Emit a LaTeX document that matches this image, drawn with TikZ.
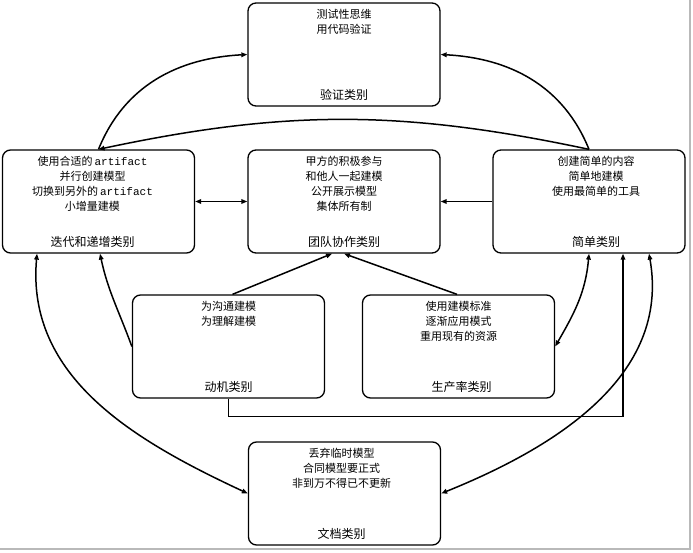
\documentclass[tikz,border=0pt]{standalone}
\usepackage{fontspec}
\setmainfont{Noto Sans CJK SC}
\newfontfamily\mono{Liberation Mono}
\usetikzlibrary{arrows.meta}
\begin{document}
\begin{tikzpicture}[x=1pt,y=1pt,
 box/.style={draw, line width=1.3pt, rounded corners=8pt, minimum width=192pt, minimum height=103pt, inner sep=0pt},
 body/.style={align=center, font=\fontsize{11}{15}\selectfont, inner sep=0pt, anchor=north},
 cat/.style={font=\fontsize{12}{14}\selectfont, inner sep=0pt, anchor=base},
 con/.style={line width=1.5pt},
 tip/.tip={Triangle[length=6pt,width=4.5pt]},
 arr/.style={con, -tip},
 darr/.style={con, tip-tip},
 frame/.style={draw=gray!55, line width=2pt},
]
\useasboundingbox (0,0) rectangle (693,-553);
% frame shadow
\draw[frame] (689.5,0) -- (689.5,-548.5) -- (0,-548.5);

% boxes
\node[box] (ver)  at (344,-54.5) {};
\node[box] (itr)  at (98.5,-201.5) {};
\node[box] (team) at (344,-201.5) {};
\node[box] (simp) at (589,-201.5) {};
\node[box] (mot)  at (228.5,-346.5) {};
\node[box] (prod) at (458.5,-346.5) {};
\node[box] (doc)  at (344.5,-493.5) {};

% body texts
\node[body] (verT)  at ([yshift=-7pt]ver.north) {测试性思维\\用代码验证};
\node[body] (itrT)  at ([xshift=-6pt,yshift=-7pt]itr.north) {使用合适的\hspace{2pt}{\mono artifact}\\并行创建模型\\切换到另外的\hspace{2pt}{\mono artifact}\\小增量建模};
\node[body] (teamT) at ([yshift=-7pt]team.north) {甲方的积极参与\\和他人一起建模\\公开展示模型\\集体所有制};
\node[body] (simpT) at ([xshift=7pt,yshift=-7pt]simp.north) {创建简单的内容\\简单地建模\\使用最简单的工具};
\node[body] (motT)  at ([yshift=-7pt]mot.north) {为沟通建模\\为理解建模};
\node[body] (prodT) at ([yshift=-7pt]prod.north) {使用建模标准\\逐渐应用模式\\重用现有的资源};
\node[body] (docT)  at ([xshift=-3pt,yshift=-7pt]doc.north) {丢弃临时模型\\合同模型要正式\\非到万不得已不更新};

% category labels
\node[cat] (verL)  at ([yshift=7.5pt]ver.south) {验证类别};
\node[cat] (itrL)  at ([xshift=-6pt,yshift=7.5pt]itr.south) {迭代和递增类别};
\node[cat] (teamL) at ([yshift=7.5pt]team.south) {团队协作类别};
\node[cat] (simpL) at ([xshift=7pt,yshift=7.5pt]simp.south) {简单类别};
\node[cat] (motL)  at ([yshift=7.5pt]mot.south) {动机类别};
\node[cat] (prodL) at ([xshift=3pt,yshift=7.5pt]prod.south) {生产率类别};
\node[cat] (docL)  at ([xshift=-3pt,yshift=7.5pt]doc.south) {文档类别};

% connectors
\draw[arr] (itr.north) to[out=68,in=183] (ver.west);
\draw[arr] (simp.north) to[out=112,in=-3] (ver.east);
\draw[arr] (simp.north) to[out=168,in=12] (itr.north);
\draw[arr] (simp.west) -- (team.east);
\draw[darr] (team.west) -- (itr.east);
\draw[arr] ([xshift=4pt]mot.north) -- ([xshift=-12pt]team.south);
\draw[arr] ([xshift=-1.5pt]prod.north) -- ([xshift=0pt]team.south);
\draw[arr] (mot.west) to[out=110,in=-78] ([xshift=1.5pt]itr.south);
\draw[darr] ([xshift=-61.5pt]itr.south) to[out=-95,in=155] (doc.west);
\draw[darr] ([xshift=60pt]simp.south) to[out=-80,in=22] (doc.east);
\draw[darr] (simp.south) to[out=-95,in=60] (prod.east);
\draw[arr] (mot.south) -- ++(0,-18) -| ([xshift=34pt]simp.south);
\end{tikzpicture}
\end{document}
